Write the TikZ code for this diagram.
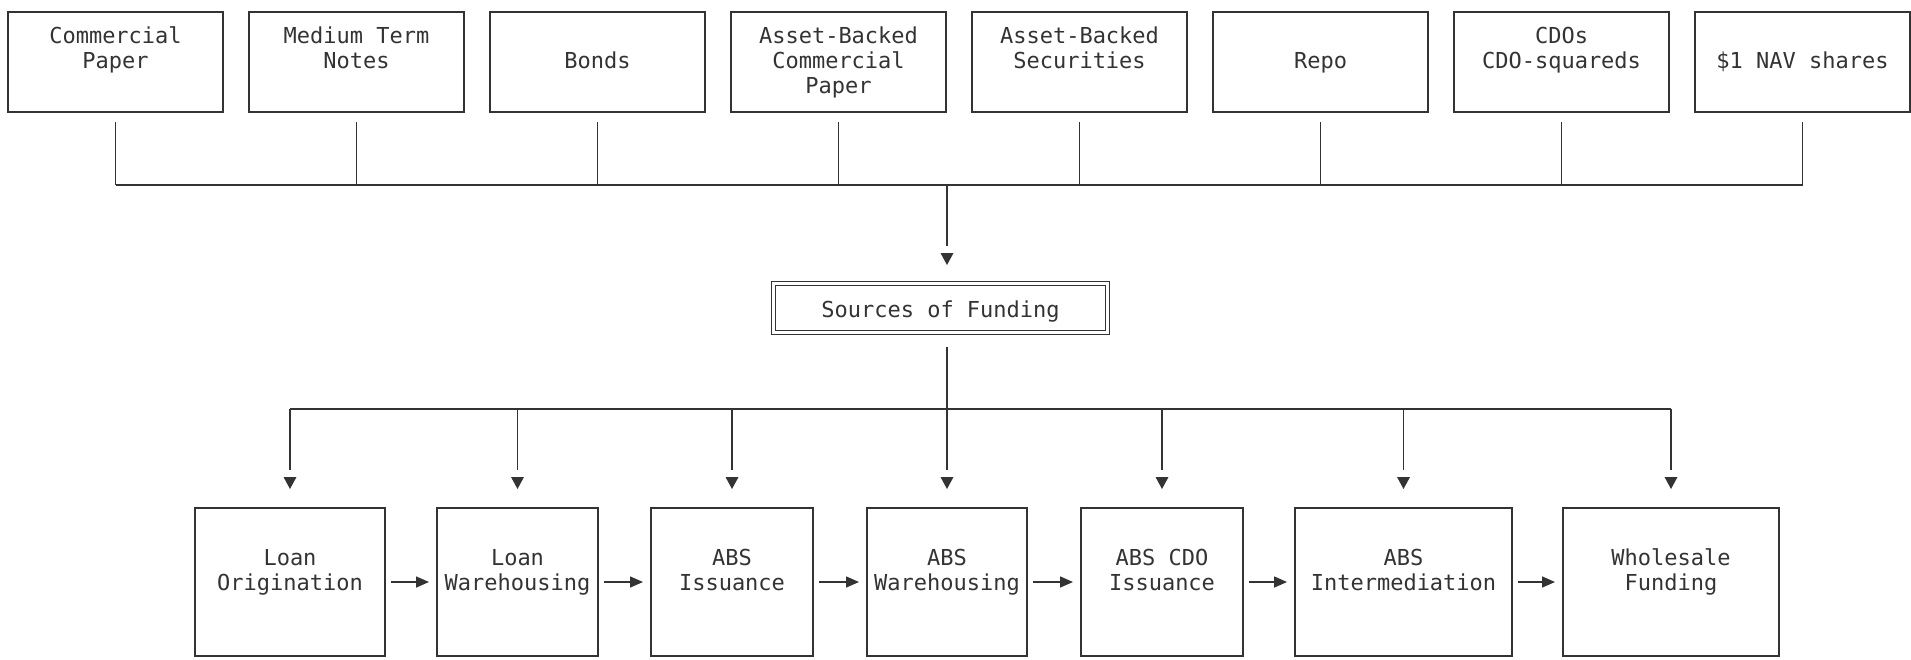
\documentclass[tikz,border=0pt]{standalone}
\usepackage{fontspec}
\setmonofont{DejaVu Sans Mono}
\usetikzlibrary{calc,arrows.meta}
\definecolor{ink}{HTML}{333333}
\newcommand\gaparrow[2]{%
  \draw[conn] (#1) -- ($(#2)+(0,-19)$);
  \fill[ink] (#2) -- ++(-6.5,-12) -- ++(13,0) -- cycle;}
\begin{document}
\begin{tikzpicture}[x=1pt,y=-1pt,
  box/.style={draw=ink, line width=1.6pt, inner sep=0pt, outer sep=0pt},
  tbox/.style={box, minimum width=215pt, minimum height=100pt},
  bbox/.style={box, minimum height=148pt},
  lbl/.style={font=\ttfamily\fontsize{22}{25}\selectfont, align=center, inner sep=0pt, text=ink, anchor=base},
  conn/.style={draw=ink, line width=1.6pt},
  harrow/.style={conn, -{Triangle[length=13pt,width=11pt]}},
]
\useasboundingbox (0,0) rectangle (1911,659);

% top row
\node[tbox] (t1) at (115.5,62) {};
\node[tbox] (t2) at (356.5,62) {};
\node[tbox] (t3) at (597.5,62) {};
\node[tbox] (t4) at (838.5,62) {};
\node[tbox] (t5) at (1079.5,62) {};
\node[tbox] (t6) at (1320.5,62) {};
\node[tbox] (t7) at (1561.5,62) {};
\node[tbox] (t8) at (1802.5,62) {};

% (base anchor = baseline of the last line)
\node[lbl] (t1l) at ([yshift=-56pt]t1.north) {Commercial\\Paper};
\node[lbl] (t2l) at ([yshift=-56pt]t2.north) {Medium Term\\Notes};
\node[lbl] (t3l) at ([yshift=-56pt]t3.north) {Bonds};
\node[lbl] (t4l) at ([yshift=-81pt]t4.north) {Asset-Backed\\Commercial\\Paper};
\node[lbl] (t5l) at ([yshift=-56pt]t5.north) {Asset-Backed\\Securities};
\node[lbl] (t6l) at ([yshift=-56pt]t6.north) {Repo};
\node[lbl] (t7l) at ([yshift=-56pt]t7.north) {CDOs\\CDO-squareds};
\node[lbl] (t8l) at ([yshift=-56pt]t8.north) {\$1 NAV shares};

% sources of funding
\node[draw=ink, line width=1.3pt, double=white, double distance=2.4pt,
      inner sep=0pt, outer sep=0pt, minimum width=334pt, minimum height=49pt]
      (src) at (940.5,308) {};
\node[lbl] (srcl) at ([yshift=-9pt]src.center) {Sources of Funding};

% bottom row
\node[bbox, minimum width=190pt] (b1) at (290,582) {};
\node[bbox, minimum width=161pt] (b2) at (517.5,582) {};
\node[bbox, minimum width=162pt] (b3) at (732,582) {};
\node[bbox, minimum width=160pt] (b4) at (947,582) {};
\node[bbox, minimum width=162pt] (b5) at (1162,582) {};
\node[bbox, minimum width=217pt] (b6) at (1403.5,582) {};
\node[bbox, minimum width=216pt] (b7) at (1671,582) {};

\node[lbl] (b1l) at ([yshift=-82pt]b1.north) {Loan\\Origination};
\node[lbl] (b2l) at ([yshift=-82pt]b2.north) {Loan\\Warehousing};
\node[lbl] (b3l) at ([yshift=-82pt]b3.north) {ABS\\Issuance};
\node[lbl] (b4l) at ([yshift=-82pt]b4.north) {ABS\\Warehousing};
\node[lbl] (b5l) at ([yshift=-82pt]b5.north) {ABS CDO\\Issuance};
\node[lbl] (b6l) at ([yshift=-82pt]b6.north) {ABS\\Intermediation};
\node[lbl] (b7l) at ([yshift=-82pt]b7.north) {Wholesale\\Funding};

% top connectors
\coordinate (tbar) at (0,185);
\foreach \n in {t1,t2,t3,t4,t5,t6,t7,t8}
  \draw[conn] ([yshift=-10pt]\n.south) -- (\n.south |- tbar);
\draw[conn] (t1.south |- tbar) -- (t8.south |- tbar);
\coordinate (cdrop) at (947,185);
\coordinate (ctip) at ($(src.north -| cdrop)+(0,-18.5)$);
\gaparrow{cdrop}{ctip}

% bottom connectors
\coordinate (bbar) at (0,409);
\draw[conn] (b1.north |- bbar) -- (b7.north |- bbar);
\coordinate (sdrop) at ($(src.south -| cdrop)+(0,14.5)$);
\foreach \n in {b1,b2,b3,b5,b6,b7}{
  \coordinate (\n tip) at ($(\n.north)+(0,-19)$);
  \gaparrow{\n.north |- bbar}{\n tip}
}
\coordinate (b4tip) at ($(b4.north)+(0,-19)$);
\gaparrow{sdrop}{b4tip}

% horizontal flow
\draw[harrow] ([xshift=6pt]b1.east) -- ([xshift=-8pt]b2.west);
\draw[harrow] ([xshift=6pt]b2.east) -- ([xshift=-8pt]b3.west);
\draw[harrow] ([xshift=6pt]b3.east) -- ([xshift=-8pt]b4.west);
\draw[harrow] ([xshift=6pt]b4.east) -- ([xshift=-8pt]b5.west);
\draw[harrow] ([xshift=6pt]b5.east) -- ([xshift=-8pt]b6.west);
\draw[harrow] ([xshift=6pt]b6.east) -- ([xshift=-8pt]b7.west);
\end{tikzpicture}
\end{document}
